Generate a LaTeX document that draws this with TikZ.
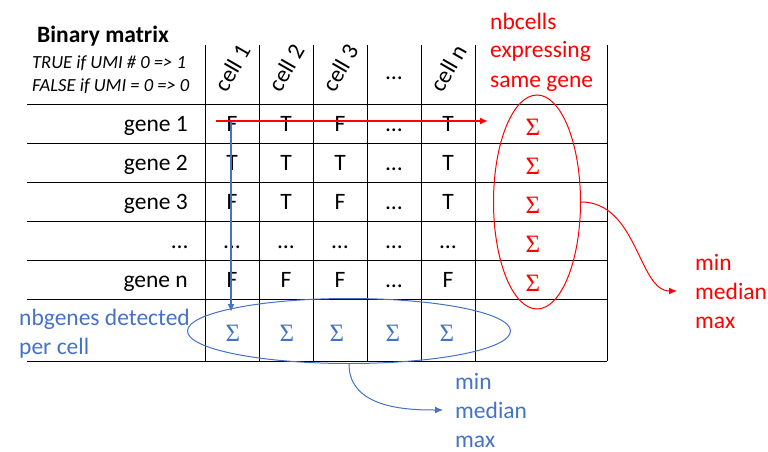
\documentclass[tikz,border=0pt]{standalone}
\usepackage{fontspec}
\setmainfont{Carlito}
\newfontfamily\sigmafont{Liberation Serif}
\usepackage{tikz}
\usetikzlibrary{arrows.meta}
\usetikzlibrary{shapes.geometric}
\usepackage{xcolor}
\definecolor{nbblue}{HTML}{4472C4}
\definecolor{nbred}{HTML}{FF0000}
\tikzset{>={Latex[length=8pt,width=7pt]}}

\begin{document}
\begin{tikzpicture}[x=1pt, y=-1pt]
    % units are pixels of the sketch, y goes down
    \tikzstyle{every node}=[inner sep=0pt, font=\fontsize{23.5}{29}\selectfont]
    \tikzstyle{cellval}=[anchor=base]
    \tikzstyle{genelabel}=[anchor=base east]
    \tikzstyle{cellhead}=[rotate=60]
    \tikzstyle{redsigma}=[anchor=base, text=nbred, font=\fontsize{25}{29}\sigmafont]
    \tikzstyle{bluesigma}=[anchor=base, text=nbblue, font=\fontsize{25}{29}\sigmafont]
    \tikzstyle{tableline}=[black, line width=1pt]
    \useasboundingbox (0,0) rectangle (768,452);

    % table lines
    \draw[tableline] (27,104) -- (607,104);
    \draw[tableline] (27,143) -- (607,143);
    \draw[tableline] (27,182) -- (607,182);
    \draw[tableline] (27,221) -- (607,221);
    \draw[tableline] (27,260) -- (607,260);
    \draw[tableline] (27,299) -- (607,299);
    \draw[tableline] (27,361) -- (607,361);
    \draw[tableline] (205,45) -- (205,361);
    \draw[tableline] (259,45) -- (259,361);
    \draw[tableline] (313,45) -- (313,361);
    \draw[tableline] (367,45) -- (367,361);
    \draw[tableline] (421,45) -- (421,361);
    \draw[tableline] (475,45) -- (475,361);
    \draw[tableline] (607,45) -- (607,361);

    \node[anchor=base west, font=\fontsize{23.5}{29}\selectfont\bfseries] (title) at (37,43) {Binary matrix};
    % multi-line nodes: base is the last line
    \node[anchor=base west, align=left, font=\fontsize{18.5}{23}\selectfont\itshape] (legend) at (32,91)
        {TRUE if UMI \# 0 => 1\\FALSE if UMI = 0 => 0};

    \node[cellhead] (h1) at (232,68) {cell 1};
    \node[cellhead] (h2) at (286,68) {cell 2};
    \node[cellhead] (h3) at (340,68) {cell 3};
    \node[cellval] (h4) at (394,80) {…};
    \node[cellhead] (h5) at (448,68) {cell n};

    \node[genelabel] (gene1) at (188,131.5) {gene 1};
    \node[genelabel] (gene2) at (188,170.5) {gene 2};
    \node[genelabel] (gene3) at (188,209.5) {gene 3};
    \node[genelabel] (gene4) at (188,248.5) {…};
    \node[genelabel] (gene5) at (188,287.5) {gene n};

    \node[cellval] (g1c1) at (232,131.5) {F};
    \node[cellval] (g1c2) at (286,131.5) {T};
    \node[cellval] (g1c3) at (340,131.5) {F};
    \node[cellval] (g1c4) at (394,131.5) {…};
    \node[cellval] (g1c5) at (448,131.5) {T};

    \node[cellval] (g2c1) at (232,170.5) {T};
    \node[cellval] (g2c2) at (286,170.5) {T};
    \node[cellval] (g2c3) at (340,170.5) {T};
    \node[cellval] (g2c4) at (394,170.5) {…};
    \node[cellval] (g2c5) at (448,170.5) {T};

    \node[cellval] (g3c1) at (232,209.5) {F};
    \node[cellval] (g3c2) at (286,209.5) {T};
    \node[cellval] (g3c3) at (340,209.5) {F};
    \node[cellval] (g3c4) at (394,209.5) {…};
    \node[cellval] (g3c5) at (448,209.5) {T};

    \node[cellval] (g4c1) at (232,248.5) {…};
    \node[cellval] (g4c2) at (286,248.5) {…};
    \node[cellval] (g4c3) at (340,248.5) {…};
    \node[cellval] (g4c4) at (394,248.5) {…};
    \node[cellval] (g4c5) at (448,248.5) {…};

    \node[cellval] (g5c1) at (232,287.5) {F};
    \node[cellval] (g5c2) at (286,287.5) {F};
    \node[cellval] (g5c3) at (340,287.5) {F};
    \node[cellval] (g5c4) at (394,287.5) {…};
    \node[cellval] (g5c5) at (448,287.5) {F};

    % sums per gene
    \node[redsigma] (s1) at (533,135) {Σ};
    \node[redsigma] (s2) at (533,174) {Σ};
    \node[redsigma] (s3) at (533,213) {Σ};
    \node[redsigma] (s4) at (533,252) {Σ};
    \node[redsigma] (s5) at (533,291) {Σ};

    % sums per cell
    \node[bluesigma] (c1) at (233,341) {Σ};
    \node[bluesigma] (c2) at (287,341) {Σ};
    \node[bluesigma] (c3) at (337,341) {Σ};
    \node[bluesigma] (c4) at (393,341) {Σ};
    \node[bluesigma] (c5) at (447,341) {Σ};

    \node[anchor=base west, align=left, text=nbred] (nbcells) at (490,87)
        {nbcells\\expressing\\same gene};
    \node[anchor=base west, align=left, text=nbblue] (nbgenes) at (19,354)
        {nbgenes detected\\per cell};

    \node[ellipse, draw=nbred, line width=1pt, minimum width=87pt, minimum height=214pt] (sumR) at (537,202) {};
    \node[ellipse, draw=nbblue, line width=1pt, minimum width=323pt, minimum height=65pt] (sumB) at (349,331) {};

    \node[anchor=base west, align=left, text=nbred] (statsR) at (695,328) {min\\median\\max};
    \node[anchor=base west, align=left, text=nbblue] (statsB) at (455,447) {min\\median\\max};

    \coordinate (bluestart) at (231,122);
    \coordinate (blueend) at (231,312);
    \draw[nbblue, line width=2pt, ->] (bluestart) -- (blueend);
    \coordinate (redstart) at (216,121);
    \coordinate (redend) at (488,121);
    \draw[nbred, line width=2pt, ->] (redstart) -- (redend);

    \draw[nbred, line width=1pt, ->, shorten >=18pt] (sumR.east) to[out=0, in=180] (statsR.west);
    \draw[nbblue, line width=1pt, ->, shorten >=12pt] (sumB.south) to[out=-90, in=180] (statsB.west);
\end{tikzpicture}
\end{document}
